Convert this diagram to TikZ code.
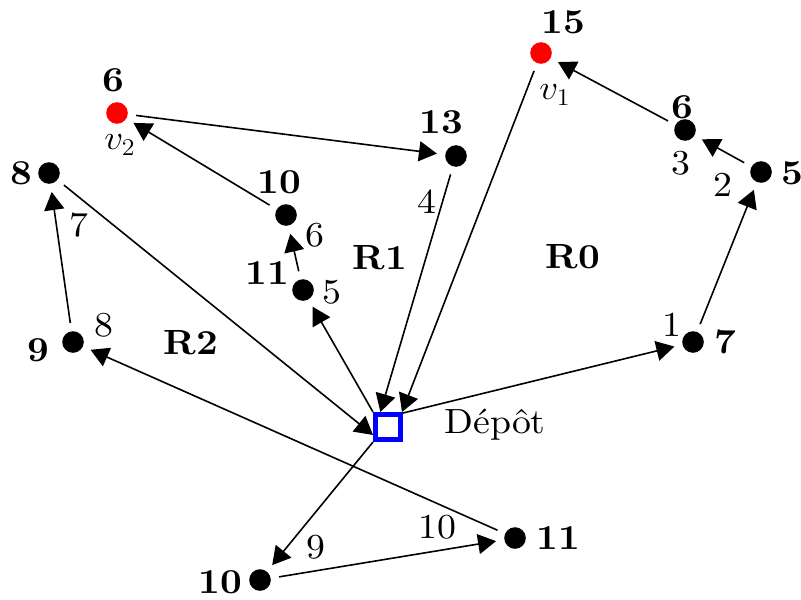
\documentclass[tikz,border=0pt]{standalone}
\usepackage{fontspec}
\usepackage{graphicx}
\setmainfont{lmroman10-regular}[Extension=.otf,BoldFont=lmroman10-bold]
\usetikzlibrary{arrows.meta}
\begin{document}
\begin{tikzpicture}[x=0.5pt,y=-0.5pt,
 dot/.style={circle,fill=black,inner sep=0pt,minimum size=10.8pt,outer sep=4.2pt},
 rdot/.style={dot,fill=red},
 num/.style={font=\fontsize{17.5}{20}\selectfont,inner sep=0pt,xscale=1.08},
 lbl/.style={num,font=\fontsize{17.5}{20}\selectfont\bfseries},
 depotbox/.style={rectangle,draw=blue,line width=2.4pt,minimum size=12.6pt,inner sep=0pt},
 arr/.style={-{Triangle[length=9pt,width=10pt]},line width=0.8pt}]
\useasboundingbox (0,0) rectangle (801,599);
% vertices
\node[dot] (n8) at (49,173) {};
\node[rdot] (v2) at (117,113) {};
\node[dot] (n10a) at (286,215) {};
\node[dot] (n11a) at (303,290) {};
\node[dot] (n9) at (73,342) {};
\node[dot] (n13) at (456,156) {};
\node[rdot] (v1) at (541,53) {};
\node[dot] (n6) at (685,130) {};
\node[dot] (n5) at (761,172) {};
\node[dot] (n7) at (693,342) {};
\node[dot] (n10b) at (260,580) {};
\node[dot] (n11b) at (515,538) {};
\node[depotbox] (depot) at (388,427) {};
% vertex labels
\node[lbl] (l8) at (21,173) {8};
\node[lbl] (lv2) at (113,80) {6};
\node[num] (tv2) at (120,145) {$v_2$};
\node[lbl] (l10a) at (279,182) {10};
\node[lbl] (l11a) at (267,273) {11};
\node[lbl] (l9) at (38,350) {9};
\node[lbl] (l13) at (441,122) {13};
\node[lbl] (lv1) at (563,22) {15};
\node[num] (tv1) at (555,95) {$v_1$};
\node[lbl] (l6) at (682,107) {6};
\node[lbl] (l5) at (792,173) {5};
\node[lbl] (l7) at (725,342) {7};
\node[lbl] (l10b) at (220,582) {10};
\node[lbl] (l11b) at (558,538) {11};
% regions
\node[lbl] (r1) at (380,258) {R1};
\node[lbl] (r0) at (573,257) {R0};
\node[lbl] (r2) at (191,343) {R2};
\node[num] (tdepot) at (495,425) {Dépôt};
% order labels
\node[num] (o4) at (427,202) {4};
\node[num] (o3) at (681,163) {3};
\node[num] (o2) at (723,185) {2};
\node[num] (o1) at (672,325) {1};
\node[num] (o6) at (315,235) {6};
\node[num] (o5) at (332,292) {5};
\node[num] (o7) at (79,225) {7};
\node[num] (o8) at (104,325) {8};
\node[num] (o9) at (316,547) {9};
\node[num] (o10) at (437,527) {10};
% edges
\draw[arr] (v2) -- (n13);
\draw[arr] (n13) -- (depot.117);
\draw[arr] (v1) -- (depot.47);
\draw[arr] (n6) -- (v1);
\draw[arr] (n5) -- (n6);
\draw[arr] (n7) -- (n5);
\draw[arr] (depot.43) -- (n7);
\draw[arr] (depot.north west) -- (n11a);
\draw[arr] (n11a) -- (n10a);
\draw[arr] (n10a) -- (v2);
\draw[arr] (n8) -- (depot.208);
\draw[arr] (n9) -- (n8);
\draw[arr] (n11b) -- (n9);
\draw[arr] (depot.south west) -- (n10b);
\draw[arr] (n10b) -- (n11b);
\end{tikzpicture}
\end{document}
